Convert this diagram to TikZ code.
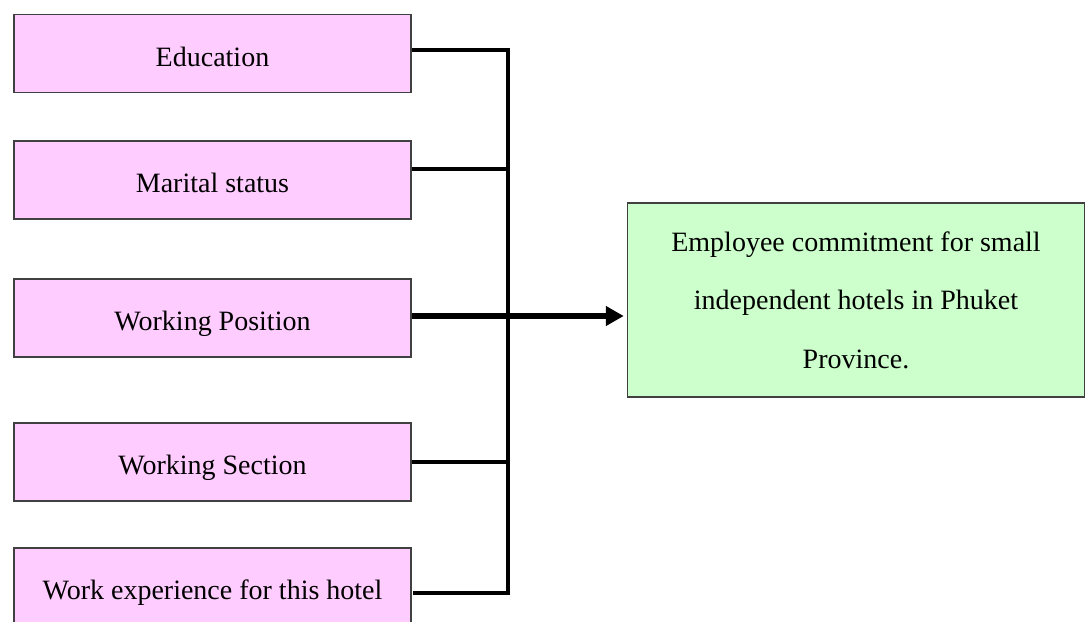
\documentclass[tikz,border=0pt]{standalone}
\usepackage{fontspec}
\setmainfont{Liberation Serif}
\usetikzlibrary{arrows.meta}
\definecolor{factorpink}{HTML}{FFCCFF}
\definecolor{outcomegreen}{HTML}{CCFFCC}

\begin{document}
\begin{tikzpicture}[x=1pt,y=-1pt,
  factor/.style={draw=black!75, line width=1.5pt, fill=factorpink, minimum width=397pt, minimum height=78pt, inner sep=0pt, text height=25pt, text depth=0pt, font=\fontsize{28}{34}\selectfont},
  outcome/.style={draw=black!75, line width=1.5pt, fill=outcomegreen, minimum width=457pt, minimum height=194pt, inner sep=0pt, align=center, font=\fontsize{28}{58.5}\selectfont},
  link/.style={line width=4pt},
  feed/.style={line width=5.5pt, -{Triangle[length=18pt,width=19pt]}}]
\useasboundingbox (0,0) rectangle (1086,621);

% factors
\node[factor] (edu) at (212.5,53.5) {Education};
\node[factor] (mar) at (212.5,180) {Marital status};
\node[factor] (pos) at (212.5,318) {Working Position};
\node[factor] (sec) at (212.5,462) {Working Section};
\node[factor] (exp) at (212.5,587) {Work experience for this hotel};

% outcome
\node[outcome] (commit) at (856,300) {Employee commitment for small\\independent hotels in Phuket\\Province.};

% bus
\coordinate (bus) at (508,0);
\coordinate (e1) at ([yshift=3.5pt]edu.east);
\coordinate (e2) at ([yshift=11pt]mar.east);
\coordinate (e4) at (sec.east);
\coordinate (e5) at ([yshift=-6pt,xshift=1pt]exp.east);
\draw[link] (e1) -- (e1 -| bus) -- (e5 -| bus) -- (e5);
\draw[link] (e2) -- (e2 -| bus);
\draw[link] (e4) -- (e4 -| bus);

\coordinate (e3) at ([yshift=2pt]pos.east);
\draw[feed] (e3) -- ([xshift=-3pt]e3 -| commit.west);
\end{tikzpicture}
\end{document}
